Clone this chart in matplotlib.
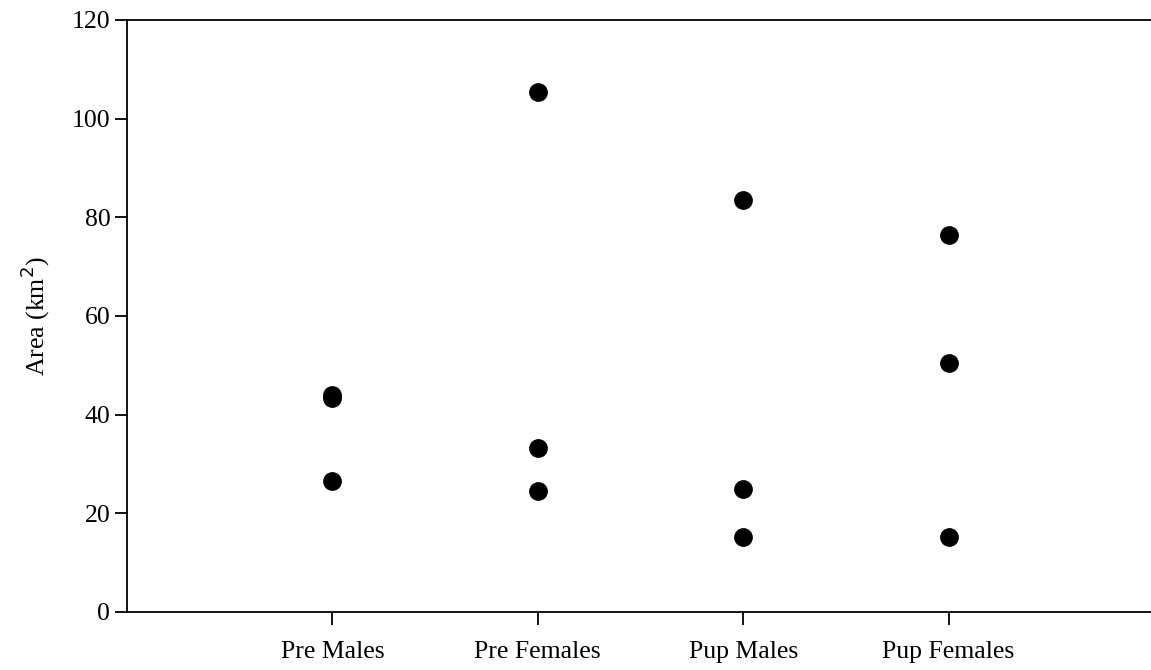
import matplotlib
matplotlib.use("Agg")
import matplotlib.pyplot as plt

categories = ["Pre Males", "Pre Females", "Pup Males", "Pup Females"]
pre_males = [44.0, 43.4, 26.5]
pre_females = [105.5, 33.2, 24.5]
pup_males = [83.5, 24.9, 15.3]
pup_females = [76.4, 50.5, 15.3]
groups = [pre_males, pre_females, pup_males, pup_females]
y_ticks = [0, 20, 40, 60, 80, 100, 120]

plt.rcParams["font.family"] = ["Liberation Serif", "DejaVu Serif"]

W, H = 1151, 670
fig = plt.figure(figsize=(W / 100, H / 100), dpi=100)
left, right, bottom, top = 127, 1154, 612, 20
ax = fig.add_axes([left / W, 1 - bottom / H, (right - left) / W, (bottom - top) / H])

for i, vals in enumerate(groups, start=1):
    ax.plot([i] * len(vals), vals, linestyle="none", marker="o",
            markersize=12.5, color="black", clip_on=False)

ax.set_xlim(0, 5)
ax.set_ylim(0, 120)
ax.set_xticks(range(1, len(categories) + 1))
ax.set_xticklabels(categories)
ax.set_yticks(y_ticks)
ax.set_yticklabels([str(v) for v in y_ticks])

ax.spines["right"].set_visible(False)
for s in ("left", "top", "bottom"):
    ax.spines[s].set_linewidth(1.3)
ax.tick_params(axis="both", direction="out", length=9, width=1.3,
               labelsize=18.5, colors="black")
ax.tick_params(axis="x", pad=12)
ax.tick_params(axis="y", pad=3)
ax.set_ylabel("Area (km$^2$)", fontsize=18.5, labelpad=14)

fig.savefig("out.png", dpi=100)
